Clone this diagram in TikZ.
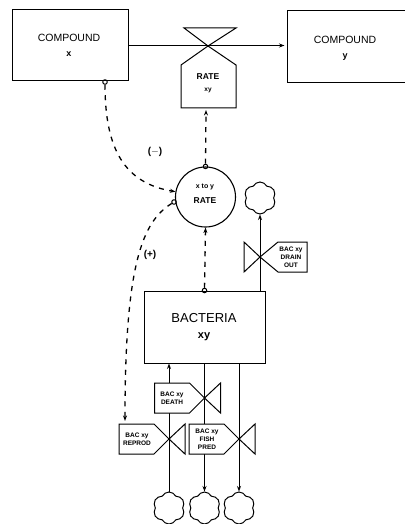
\documentclass[tikz,border=0pt]{standalone}
\usepackage{fontspec}
\setmainfont{Liberation Sans}
\usetikzlibrary{positioning,arrows.meta,shapes.symbols}
\tikzset{
  stockbox/.style={draw, line width=1pt, minimum width=#1, inner sep=0pt},
  sink/.style={draw, line width=1pt, cloud, cloud puffs=6, cloud puff arc=125, aspect=1, inner sep=0pt, minimum width=32pt, minimum height=32pt},
  tap/.style={circle, draw, line width=1pt, inner sep=0pt, minimum size=4.5pt},
  flow/.style={line width=1pt, -{Stealth[length=5.5pt,width=4pt]}},
  info/.style={line width=1.3pt, dash pattern=on 5pt off 5.5pt, -{Stealth[length=5.5pt,width=4pt]}},
  valve/.style={line width=1pt, line join=miter},
  taglabel/.style={font=\fontsize{6.5}{7.8}\selectfont\bfseries, align=center}
}
\begin{document}
\begin{tikzpicture}[x=1pt, y=-1pt]
  \useasboundingbox (0,0) rectangle (404,524);
  % stocks
  \node[stockbox=116pt, minimum height=71pt] (cmpx) at (70,45.5) {};
  \node[font=\fontsize{10.5}{12}\selectfont] (cmpxname) at (69,38) {COMPOUND};
  \node[font=\fontsize{9}{10}\selectfont\bfseries] (cmpxsym) at (69,54) {x};
  \node[stockbox=118pt, minimum height=72pt] (cmpy) at (346,47) {};
  \node[font=\fontsize{10.5}{12}\selectfont] (cmpyname) at (345,40) {COMPOUND};
  \node[font=\fontsize{9}{10}\selectfont\bfseries] (cmpysym) at (345,57) {y};
  \node[stockbox=121pt, minimum height=72pt] (bact) at (204.5,327) {};
  \node[font=\fontsize{13}{15}\selectfont] (bactname) at (204,318) {BACTERIA};
  \node[font=\fontsize{11}{13}\selectfont\bfseries] (bactsym) at (204,337) {xy};
  % rate valve on the main flow
  \coordinate (ratev) at (208,46);
  \draw[flow, shorten >=2pt] (cmpx.east) -- (cmpx.east -| cmpy.west);
  \draw[valve] (ratev) -- (184,28) -- (236,28) -- cycle;
  \draw[valve] (ratev) -- (236,65) -- (236,108) -- (181,108) -- (181,65) -- cycle;
  \node[font=\fontsize{8.5}{10}\selectfont\bfseries] (ratename) at (208,77) {RATE};
  \node[font=\fontsize{6.5}{8}\selectfont\bfseries] (ratesym) at (208,90) {xy};
  \coordinate (ratein) at (206,110);
  % auxiliary
  \node[circle, draw, line width=1.1pt, minimum size=60pt, inner sep=0pt] (aux) at (205.5,197) {};
  \node[font=\fontsize{7}{8}\selectfont\bfseries] (auxtop) at (205,187) {x to y};
  \node[font=\fontsize{8.5}{10}\selectfont\bfseries] (auxname) at (205,201) {RATE};
  \node[font=\fontsize{10}{12}\selectfont\bfseries] (minus) at (155,152) {($-$)};
  \node[font=\fontsize{10}{12}\selectfont\bfseries] (plus) at (150,255) {(+)};
  % sinks
  \node[sink] (sinkd) at (260,198) {};
  \node[sink] (sinkr) at (169,508) {};
  \node[sink] (sinkb) at (204.5,508) {};
  \node[sink] (sinkf) at (239,508) {};
  % material flows
  \draw[flow] (bact.north -| sinkd.south) -- (sinkd.south);
  \draw[flow] (sinkr.north) -- (sinkr.north |- bact.south);
  \draw[flow] (bact.south) -- (sinkb.north);
  \draw[flow] (bact.south -| sinkf.north) -- (sinkf.north);
  % valves with tag at left: reproduction, death, predation
  \foreach \vx/\vy in {169/439, 204.5/398, 239/439} {
    \draw[valve] (\vx,\vy) -- ++(16,-15) -- ++(0,30) -- cycle;
    \draw[valve, fill=white] (\vx,\vy) -- ++(-15,-15) -- ++(-35,0) -- ++(0,30) -- ++(35,0) -- cycle;
  }
  \node[taglabel] (reprod) at (137,439) {BAC xy\\REPROD};
  \node[taglabel] (death) at (172,398) {BAC xy\\DEATH};
  \node[taglabel] (fish) at (207,439) {BAC xy\\FISH\\PRED};
  % drain valve
  \draw[valve] (260,257) -- (244,242) -- (244,272) -- cycle;
  \draw[valve] (260,257) -- (278,242) -- (307,242) -- (307,272) -- (278,272) -- cycle;
  \node[taglabel] (drain) at (291,257) {BAC xy\\DRAIN\\OUT};
  % information links
  \node[tap] (tapx) at (105,82) {};
  \node[tap] (taptop) at (aux.north) {};
  \node[tap] (tapaux) at (174,202) {};
  \node[tap] (tapbact) at (bact.north) {};
  \coordinate (reprodin) at (125,421);
  \draw[info] (tapx) .. controls (105,150) and (125,183) .. (aux.170);
  \draw[info] (taptop) -- (ratein);
  \draw[info] (tapbact) -- (aux.south);
  \draw[info] (tapaux) .. controls (142,222) and (125,265) .. (reprodin);
\end{tikzpicture}
\end{document}
